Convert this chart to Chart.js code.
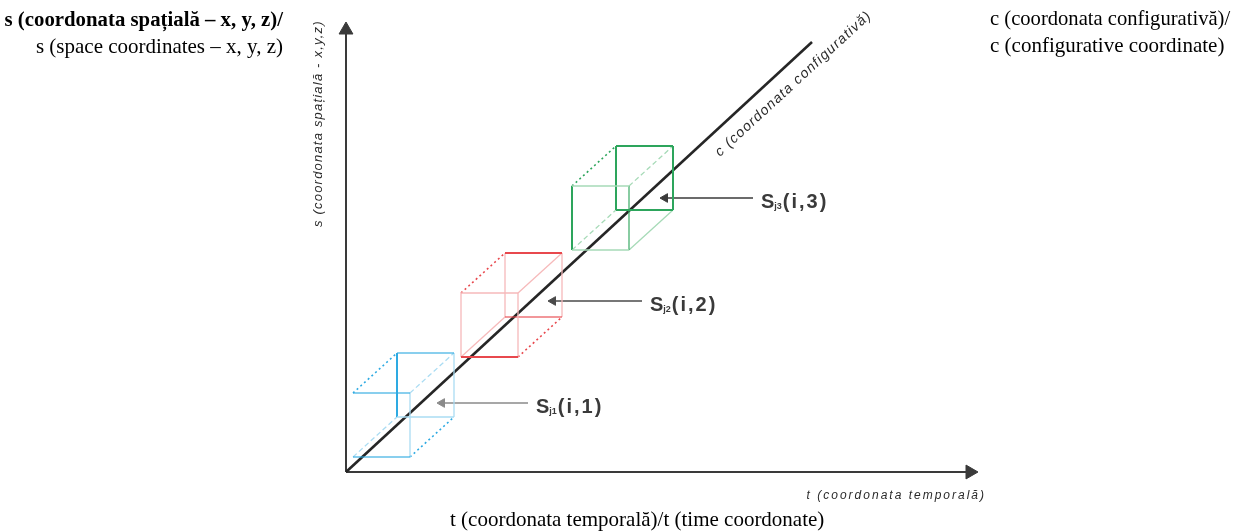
<!DOCTYPE html>
<html>
<head>
<meta charset="utf-8">
<script src="https://cdn.jsdelivr.net/npm/chart.js@4/dist/chart.umd.min.js"></script>
<style>
html, body { margin: 0; padding: 0; background: #fff; }
#wrap { position: relative; width: 1246px; height: 531px; }
.cap { position: absolute; font-family: "Liberation Serif", "Times New Roman", serif; font-size: 21px; color: #000; line-height: 27px; white-space: nowrap; }
</style>
</head>
<body>
<div id="wrap">
  <canvas id="c" width="1246" height="531"></canvas>
  <div class="cap" style="right:963px;top:5px;text-align:right"><b style="font-size:20.8px">s (coordonata spațială – x, y, z)/</b><br>s (space coordinates – x, y, z)</div>
  <div class="cap" style="left:990px;top:5px"><span style="font-size:20.6px">c (coordonata configurativă)/</span><br>c (configurative coordinate)</div>
  <div class="cap" style="left:450px;top:506px">t (coordonata temporală)/t (time coordonate)</div>
</div>
<script>
// diagram values (t = time, s = space), arbitrary units
const axisT = [0, 62.4]
const axisS = [0, 44.2]
const diagT = [0, 46.6]
const diagS = [0, 43.0]

const cubeIndex = [1, 2, 3]
const cubeT = [0.7, 11.5, 22.6]
const cubeS = [1.5, 11.5, 22.2]

const arrowFromT = [18.2, 29.6, 40.7]
const arrowToT = [9.1, 20.2, 31.4]
const arrowS = [6.9, 17.1, 27.4]

// cube size (same units)
const W = 5.7, H = 6.4, DX = 4.4, DY = 4.0

const cubeColors = [
  {strong: '#2eaae2', light: '#aadcf3'},
  {strong: '#e8484d', light: '#f6b9ba'},
  {strong: '#2da55c', light: '#a6dab7'}
]
// edge looks: s strong, m medium, l light, d dotted, q light dashed, n none
const edgeLooks = [
  ['m','m','n','l','l','m','s','l','q','d','d','q'],
  ['s','l','l','l','m','s','l','l','l','d','d','l'],
  ['l','l','s','m','s','s','s','s','q','l','d','q']
]
const edges = [
  ['FBL','FBR'], ['FTL','FTR'], ['FBL','FTL'], ['FBR','FTR'],
  ['BBL','BBR'], ['BTL','BTR'], ['BBL','BTL'], ['BBR','BTR'],
  ['FBL','BBL'], ['FBR','BBR'], ['FTL','BTL'], ['FTR','BTR']
]

function corners(t0, s0){
  return {
    FBL: [t0, s0], FBR: [t0 + W, s0], FTL: [t0, s0 + H], FTR: [t0 + W, s0 + H],
    BBL: [t0 + DX, s0 + DY], BBR: [t0 + W + DX, s0 + DY],
    BTL: [t0 + DX, s0 + H + DY], BTR: [t0 + W + DX, s0 + H + DY]
  }
}

function seg(a, b, color, width, dash){
  return {
    data: [{x: a[0], y: a[1]}, {x: b[0], y: b[1]}],
    showLine: true, borderColor: color, borderWidth: width, borderDash: dash || [],
    pointRadius: 0, fill: false
  }
}

const datasets = []
cubeT.forEach((t0, i) => {
  const c = corners(t0, cubeS[i])
  const col = cubeColors[i]
  edges.forEach((e, k) => {
    const look = edgeLooks[i][k]
    if (look == 'n') return
    let ds
    if (look == 's') ds = seg(c[e[0]], c[e[1]], col.strong, 2)
    else if (look == 'm') ds = seg(c[e[0]], c[e[1]], col.strong + 'c0', 1.5)
    else if (look == 'l') ds = seg(c[e[0]], c[e[1]], col.light, 1.3)
    else if (look == 'd') ds = seg(c[e[0]], c[e[1]], col.strong, 1.6, [2, 3])
    else ds = seg(c[e[0]], c[e[1]], col.light, 1.3, [5, 3])
    datasets.push(ds)
  })
})

// configurative coordinate (diagonal)
datasets.push(seg([diagT[0], diagS[0]], [diagT[1], diagS[1]], '#262626', 2.6))

// axes with arrow heads
function arrow(a, b, color, width, r, rot){
  const ds = seg(a, b, color, width)
  ds.pointRadius = [0, r]
  ds.pointStyle = 'triangle'
  ds.pointRotation = [0, rot]
  ds.pointBackgroundColor = color
  ds.pointBorderColor = color
  ds.pointBorderWidth = 1
  return ds
}
datasets.push(arrow([axisT[0], axisS[0]], [axisT[1], axisS[0]], '#3a3a3a', 2, 8, 90))
datasets.push(arrow([axisT[0], axisS[0]], [axisT[0], axisS[1]], '#3a3a3a', 2, 8, 0))

const arrowColors = ['#8a8a8a', '#4a4a4a', '#3a3a3a']
arrowFromT.forEach((t, i) => {
  datasets.push(arrow([t, arrowS[i]], [arrowToT[i] + 0.5, arrowS[i]], arrowColors[i], 1.5, 5, 270))
})

const labelPlugin = {
  id: 'diagramLabels',
  afterDatasetsDraw(chart){
    const ctx = chart.ctx
    const x = chart.scales.x, y = chart.scales.y
    ctx.save()
    ctx.fillStyle = '#3a3a3a'
    ctx.textBaseline = 'middle'
    // S labels
    cubeIndex.forEach((n, i) => {
      let px = x.getPixelForValue(arrowFromT[i]) + 8
      const py = y.getPixelForValue(arrowS[i]) + 4
      ctx.textAlign = 'left'
      ctx.letterSpacing = '0px'
      ctx.font = 'bold 20px "Liberation Sans", Arial, sans-serif'
      ctx.fillText('S', px, py)
      px += ctx.measureText('S').width
      ctx.font = 'bold 9px "Liberation Sans", Arial, sans-serif'
      ctx.fillText('j' + n, px, py + 5)
      px += ctx.measureText('j' + n).width + 1
      ctx.font = 'bold 20px "Liberation Sans", Arial, sans-serif'
      ctx.letterSpacing = '2px'
      ctx.fillText('(i,' + n + ')', px, py)
    })
    ctx.fillStyle = '#2a2a2a'
    ctx.textBaseline = 'alphabetic'
    // time axis label
    ctx.font = 'italic 12px "Liberation Sans", Arial, sans-serif'
    ctx.letterSpacing = '2px'
    ctx.textAlign = 'right'
    ctx.fillText('t (coordonata temporală)', x.getPixelForValue(64.0), y.getPixelForValue(-2.7))
    // space axis label
    ctx.font = 'italic 13px "Liberation Sans", Arial, sans-serif'
    ctx.letterSpacing = '1.2px'
    ctx.save()
    ctx.translate(x.getPixelForValue(-2.4), y.getPixelForValue(24.5))
    ctx.rotate(-Math.PI / 2)
    ctx.textAlign = 'left'
    ctx.fillText('s (coordonata spațială - x,y,z)', 0, 0)
    ctx.restore()
    // configurative label along the diagonal
    const ang = Math.atan2(y.getPixelForValue(diagS[1]) - y.getPixelForValue(diagS[0]),
                           x.getPixelForValue(diagT[1]) - x.getPixelForValue(diagT[0]))
    ctx.save()
    ctx.translate(x.getPixelForValue(37.4), y.getPixelForValue(31.5))
    ctx.rotate(ang)
    ctx.font = 'italic 14px "Liberation Sans", Arial, sans-serif'
    ctx.letterSpacing = '1.2px'
    ctx.textAlign = 'left'
    ctx.fillText('c (coordonata configurativă)', 0, 0)
    ctx.restore()
    ctx.restore()
  }
}

new Chart(document.getElementById('c'), {
  type: 'scatter',
  data: {datasets: datasets},
  options: {
    responsive: false,
    animation: false,
    events: [],
    layout: {padding: 0, autoPadding: false},
    scales: {
      x: {type: 'linear', min: -34.6, max: 90.0, display: false},
      y: {type: 'linear', min: -5.9, max: 47.2, display: false}
    },
    plugins: {legend: {display: false}, tooltip: {enabled: false}}
  },
  plugins: [labelPlugin]
})
</script>
</body>
</html>
